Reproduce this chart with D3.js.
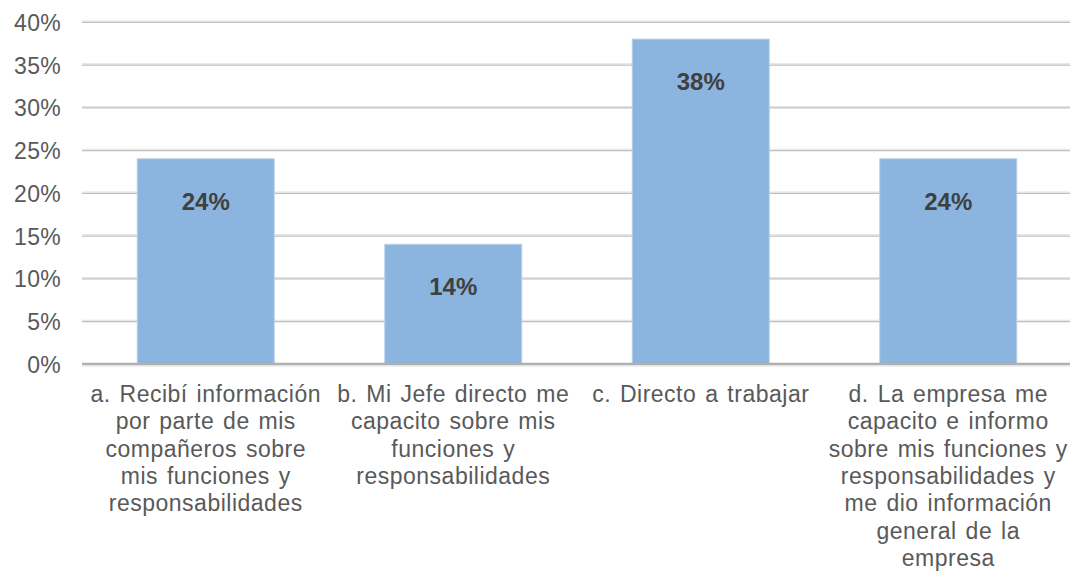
<!DOCTYPE html>
<html>
<head>
<meta charset="utf-8">
<script src="https://cdn.jsdelivr.net/npm/d3@7"></script>
<style>
  html, body { margin: 0; padding: 0; background: #ffffff; }
  svg { display: block; font-family: "Liberation Sans", Arial, sans-serif; }
</style>
</head>
<body>
<svg id="chart" width="1070" height="571"></svg>
<script>
// Response categories (line breaks mark where each label wraps)
const categories = [
  "a. Recibí información\npor parte de mis\ncompañeros sobre\nmis funciones y\nresponsabilidades",
  "b. Mi Jefe directo me\ncapacito sobre mis\nfunciones y\nresponsabilidades",
  "c. Directo a trabajar",
  "d. La empresa me\ncapacito e informo\nsobre mis funciones y\nresponsabilidades y\nme dio información\ngeneral de la\nempresa"
];
// Share of respondents, in percent
const values = [24, 14, 38, 24];
// Y axis ticks, in percent
const yTicks = [0, 5, 10, 15, 20, 25, 30, 35, 40];

const svg = d3.select("#chart");
const margin = { left: 82, right: -2, top: 22, bottom: 207 };
const width = 1070, height = 571;

const x = d3.scaleBand()
  .domain(categories)
  .range([margin.left, width - margin.right])
  .paddingInner(0.4465)
  .paddingOuter(0.4465 / 2);

const y = d3.scaleLinear()
  .domain([0, 40])
  .range([height - margin.bottom, margin.top]);

// Horizontal gridlines (light highlight above a grey rule)
const grid = svg.append("g");
yTicks.filter(t => t > 0).forEach(t => {
  grid.append("line")
    .attr("x1", margin.left).attr("x2", width)
    .attr("y1", y(t) - 1).attr("y2", y(t) - 1)
    .attr("stroke", "#e2e2e2").attr("stroke-width", 1);
  grid.append("line")
    .attr("x1", margin.left).attr("x2", width)
    .attr("y1", y(t) + 0.3).attr("y2", y(t) + 0.3)
    .attr("stroke", "#bfbfbf").attr("stroke-width", 1.2);
});

// Y axis labels
const yAxis = d3.axisLeft(y)
  .tickValues(yTicks)
  .tickFormat(d => d + "%")
  .tickSize(0)
  .tickPadding(21);
const yg = svg.append("g")
  .attr("transform", `translate(${margin.left},0)`)
  .call(yAxis);
yg.select(".domain").remove();
yg.selectAll("text")
  .attr("fill", "#595959")
  .style("font-size", "23px")
  .style("letter-spacing", "0.3px")
  .attr("dy", "0.36em");

// Bars
svg.append("g").selectAll("rect")
  .data(values)
  .join("rect")
  .attr("x", (d, i) => x(categories[i]))
  .attr("width", x.bandwidth())
  .attr("y", d => y(d))
  .attr("height", d => y(0) - y(d))
  .attr("fill", "#8bb5df")
  .attr("stroke", "#b9d0e8")
  .attr("stroke-width", 1);

// Baseline
svg.append("line")
  .attr("x1", margin.left).attr("x2", width)
  .attr("y1", y(0)).attr("y2", y(0))
  .attr("stroke", "#b0b0b0").attr("stroke-width", 2.4);
svg.append("line")
  .attr("x1", margin.left).attr("x2", width)
  .attr("y1", y(0) + 1.9).attr("y2", y(0) + 1.9)
  .attr("stroke", "#dcdcdc").attr("stroke-width", 1);

// Value labels inside the bar tops
svg.append("g").selectAll("text")
  .data(values)
  .join("text")
  .attr("x", (d, i) => x(categories[i]) + x.bandwidth() / 2)
  .attr("y", d => y(d) + 51)
  .attr("text-anchor", "middle")
  .attr("fill", "#404040")
  .style("font-size", "24px")
  .style("font-weight", "bold")
  .text(d => d + "%");

// Category labels, wrapped onto several lines
const xl = svg.append("g");
categories.forEach(c => {
  const t = xl.append("text")
    .attr("x", x(c) + x.bandwidth() / 2)
    .attr("y", 402)
    .attr("text-anchor", "middle")
    .attr("fill", "#595959")
    .style("font-size", "23px")
    .style("letter-spacing", "0.5px")
    .style("word-spacing", "2px");
  c.split("\n").forEach((line, j) => {
    t.append("tspan")
      .attr("x", x(c) + x.bandwidth() / 2)
      .attr("dy", j === 0 ? 0 : 27.3)
      .text(line);
  });
});
</script>
</body>
</html>
